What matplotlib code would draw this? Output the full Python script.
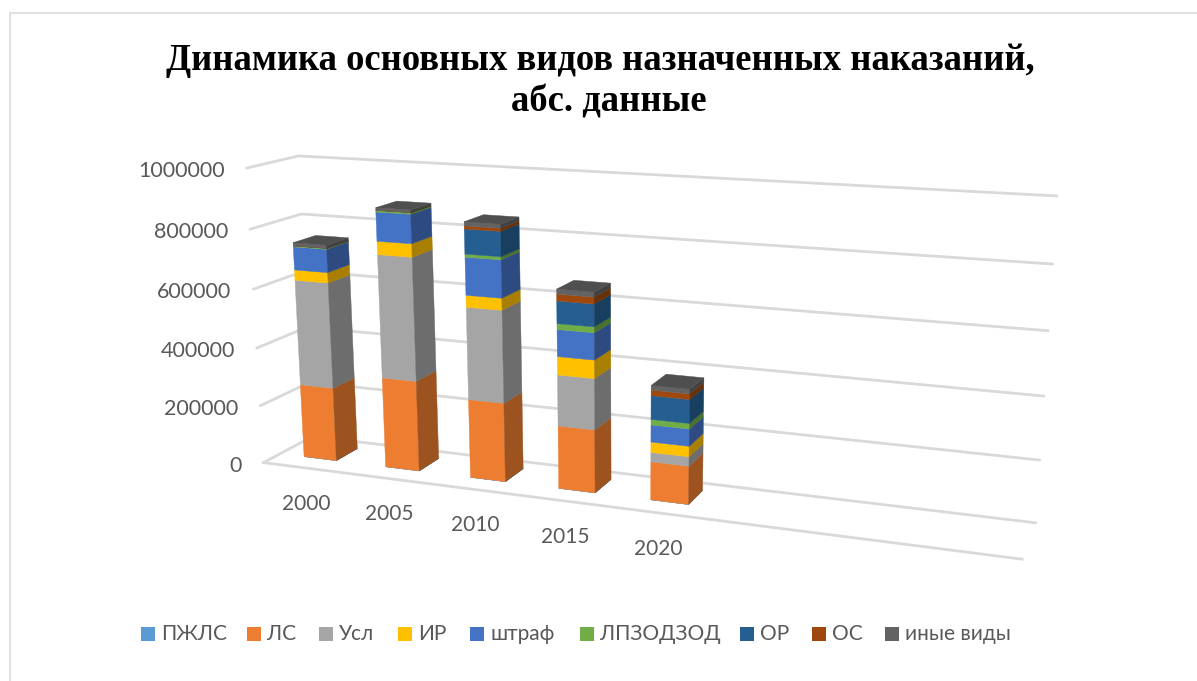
import numpy as np
import matplotlib
matplotlib.use('Agg')
import matplotlib.pyplot as plt
from matplotlib.patches import Polygon

# values
years = ['2000', '2005', '2010', '2015', '2020']
series_names = ['ПЖЛС', 'ЛС', 'Усл', 'ИР', 'штраф', 'ЛПЗОДЗОД', 'ОР', 'ОС', 'иные виды']
pzhls = [100, 100, 100, 100, 100]
ls = [255000, 309000, 266000, 210000, 126000]
usl = [361000, 415000, 308000, 169000, 31000]
ir = [35000, 44000, 39000, 60000, 34000]
shtraf = [78000, 96000, 124000, 88000, 56000]
lpz = [3000, 5000, 10000, 19000, 18000]
or_ = [500, 500, 81000, 73000, 77000]
os_ = [500, 500, 10000, 22000, 18000]
inye = [10000, 8000, 13000, 16000, 15000]
y_ticks = [0, 200000, 400000, 600000, 800000, 1000000]

series = [pzhls, ls, usl, ir, shtraf, lpz, or_, os_, inye]
colors = ['#5B9BD5', '#ED7D31', '#A5A5A5', '#FFC000', '#4472C4',
          '#70AD47', '#255E91', '#9E480E', '#636363']

n_slots = 8
bar_frac = 0.40
depth_front, depth_back = 0.33, 0.78
grid_color = '#D9D9D9'
text_color = '#595959'

# camera fit: box corners (u, v, w) to picture pixels
corners = [((0, 0, 0), (265, 462)), ((1, 0, 0), (1022, 560)), ((0, 1, 0), (245, 168)),
           ((0, 0, 1), (311, 437)), ((0, 1, 1), (300, 156)), ((1, 1, 1), (1057, 196)),
           ((1, 0, 1), (1036, 522))]
rows = []
for (u, v, w), (px, py) in corners:
    X = [u, v, w, 1]
    rows.append(X + [0, 0, 0, 0] + [-px * c for c in X])
    rows.append([0, 0, 0, 0] + X + [-py * c for c in X])
cam = np.linalg.svd(np.array(rows, dtype=float))[2][-1].reshape(3, 4)


def project(u, v, w):
    p = cam @ np.array([u, v, w, 1.0])
    return p[0] / p[2], p[1] / p[2]


def shade(color, k):
    rgb = np.array(matplotlib.colors.to_rgb(color))
    return tuple(rgb * k)


fig = plt.figure(figsize=(11.97, 6.81), dpi=100)
ax = fig.add_axes([0, 0, 1, 1])
ax.set_xlim(0, 1197)
ax.set_ylim(681, 0)
ax.axis('off')

# chart frame, only left and top show
ax.plot([10, 10, 1197], [681, 12.5, 12.5], color='#E0E0E0', lw=1.5)

ax.text(600, 60, 'Динамика основных видов назначенных наказаний,', family='Liberation Serif',
        weight='bold', fontsize=26.4, ha='center', va='center', color='black')
ax.text(609, 102, 'абс. данные', family='Liberation Serif',
        weight='bold', fontsize=26.4, ha='center', va='center', color='black')

# walls and floor gridlines
for t in y_ticks:
    v = t / y_ticks[-1]
    pts = [project(0, v, 0), project(0, v, 1), project(1, v, 1)]
    ax.plot(*zip(*pts), color=grid_color, lw=2, solid_capstyle='round', zorder=1)
    x, y = project(0, v, 0)
    ax.text(x - 22, y + 3, str(t), ha='right', va='center', fontsize=15.5,
            family=['Lato', 'Open Sans'], color=text_color)
ax.plot(*zip(project(0, 0, 0), project(1, 0, 0)), color=grid_color, lw=2, zorder=1)

# stacked 3d columns
for i, year in enumerate(years):
    uc = (i + 0.5) / n_slots
    u0, u1 = uc - bar_frac / 2 / n_slots, uc + bar_frac / 2 / n_slots
    base = 0
    for vals, col in zip(series, colors):
        top = base + vals[i]
        v0, v1 = base / y_ticks[-1], top / y_ticks[-1]
        z = 2 + i * 0.1
        ax.add_patch(Polygon([project(u0, v0, depth_front), project(u1, v0, depth_front),
                              project(u1, v1, depth_front), project(u0, v1, depth_front)],
                             fc=col, ec=col, lw=0.3, zorder=z))
        side = shade(col, 0.66)
        ax.add_patch(Polygon([project(u1, v0, depth_front), project(u1, v0, depth_back),
                              project(u1, v1, depth_back), project(u1, v1, depth_front)],
                             fc=side, ec=side, lw=0.3, zorder=z))
        base = top
    v = base / y_ticks[-1]
    roof = shade(colors[-1], 0.8)
    ax.add_patch(Polygon([project(u0, v, depth_front), project(u1, v, depth_front),
                          project(u1, v, depth_back), project(u0, v, depth_back)],
                         fc=roof, ec=roof, lw=0.3, zorder=z))
    x, y = project(uc, 0, 0)
    ax.text(x + 2 - i * 0.5, y + 36, year, ha='center', va='center', fontsize=15,
            family=['Lato', 'Open Sans'], color=text_color)

# legend
legend_x = [141, 247, 319, 398, 470, 580, 740, 812, 885]
for name, col, lx in zip(series_names, colors, legend_x):
    ax.add_patch(Polygon([(lx, 627), (lx + 14, 627), (lx + 14, 641), (lx, 641)], fc=col, ec='none'))
    ax.text(lx + 20, 634, name, ha='left', va='center', fontsize=15,
            family=['Lato', 'Open Sans'], color=text_color)

fig.savefig('out.png', dpi=100)
